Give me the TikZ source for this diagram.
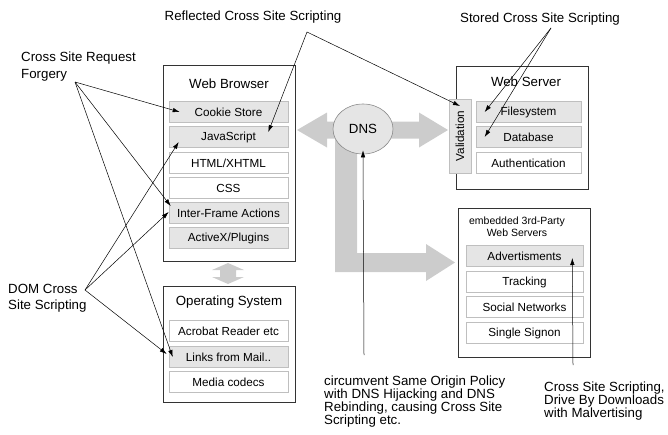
\documentclass[tikz,border=0pt]{standalone}
\usepackage{fontspec}
\setmainfont{Liberation Sans}
\usetikzlibrary{arrows.meta,shapes.geometric}

\begin{document}
\begin{tikzpicture}[x=1pt,y=-1pt,
    panel/.style={draw=black!80, line width=0.9pt, inner sep=0pt},
    part/.style={draw=black!25, line width=0.6pt, fill=white, inner sep=0pt, minimum height=21pt, font=\fontsize{11.7}{14}\selectfont},
    hotpart/.style={part, fill=black!10},
    heading/.style={inner sep=0pt, font=\fontsize{13.3}{16}\selectfont},
    note/.style={align=left, inner sep=0pt, font=\fontsize{13.3}{16.5}\selectfont},
    attack/.style={-{Latex[length=7pt,width=4.5pt]}, line width=0.5pt},
    flow/.style={fill=black!20}]
  \useasboundingbox (0,0) rectangle (668,434);

  % Gray flows around the DNS
  \fill[flow] (297,130) -- (327,112.5) -- (327,121.5) -- (419,121.5) -- (419,112.5) -- (448,130)
    -- (419,147.5) -- (419,138.5) -- (327,138.5) -- (327,147.5) -- cycle;
  \fill[flow] (335,135) -- (335,272) -- (426,272) -- (426,281) -- (455,262.5) -- (426,244)
    -- (426,253) -- (357,253) -- (357,135) -- cycle;
  \fill[flow] (228,263) -- (244,270) -- (236,270) -- (236,277) -- (244,277) -- (228,284)
    -- (212,277) -- (220,277) -- (220,270) -- (212,270) -- cycle;

  % Web Browser
  \node[panel, minimum width=132pt, minimum height=196pt] (browser) at (229,163) {};
  \node[heading] (browsertitle) at (229,84) {Web Browser};
  \node[hotpart, minimum width=119pt] (cookie) at (228.5,112) {Cookie Store};
  \node[hotpart, minimum width=119pt] (js) at (228.5,137) {JavaScript};
  \node[part, minimum width=119pt] (html) at (228.5,163) {HTML/XHTML};
  \node[part, minimum width=119pt] (css) at (228.5,188) {CSS};
  \node[hotpart, minimum width=119pt] (iframe) at (228.5,213) {Inter-Frame Actions};
  \node[hotpart, minimum width=119pt] (activex) at (228.5,238) {ActiveX/Plugins};

  % Operating System
  \node[panel, minimum width=132pt, minimum height=116pt] (os) at (229,344) {};
  \node[heading] (ostitle) at (229,302) {Operating System};
  \node[part, minimum width=119pt] (acrobat) at (228.5,331) {Acrobat Reader etc};
  \node[hotpart, minimum width=119pt] (links) at (228.5,357) {Links from Mail..};
  \node[part, minimum width=119pt] (media) at (228.5,382) {Media codecs};

  % Web Server
  \node[panel, minimum width=132pt, minimum height=123pt] (server) at (522,127.5) {};
  \node[heading] (servertitle) at (526,82) {Web Server};
  \node[hotpart, rotate=90, minimum width=74pt, minimum height=22pt] (valid) at (460,136) {Validation};
  \node[hotpart, minimum width=105pt] (fs) at (528.5,112) {Filesystem};
  \node[hotpart, minimum width=105pt] (db) at (528.5,137) {Database};
  \node[part, minimum width=105pt] (auth) at (528.5,163) {Authentication};

  % embedded 3rd-party servers
  \node[panel, minimum width=132pt, minimum height=149pt] (third) at (524,282.5) {};
  \node[heading, align=center, font=\fontsize{10.5}{11.5}\selectfont] (thirdtitle) at (517,226.5) {embedded 3rd-Party\\Web Servers};
  \node[hotpart, minimum width=117pt] (ads) at (524.5,256) {Advertisments};
  \node[part, minimum width=117pt] (tracking) at (524.5,282) {Tracking};
  \node[part, minimum width=117pt] (social) at (524.5,307) {Social Networks};
  \node[part, minimum width=117pt] (sso) at (524.5,333) {Single Signon};

  % DNS
  \node[ellipse, draw=black!45, line width=0.6pt, fill=black!10, inner sep=0pt,
    minimum width=60pt, minimum height=50pt, font=\fontsize{13.3}{16}\selectfont] (dns) at (363,129) {DNS};

  % Attack labels
  \node[heading] (reflected) at (253,17) {Reflected Cross Site Scripting};
  \node[heading] (stored) at (540,19) {Stored Cross Site Scripting};
  \node[note, anchor=west] (csrf) at (21,66.5) {Cross Site Request\\Forgery};
  \node[note, anchor=west] (dom) at (8,298) {DOM Cross\\Site Scripting};
  \node[note, anchor=west, font=\fontsize{13.3}{13}\selectfont] (rebind) at (324,401.5)
    {circumvent Same Origin Policy\\with DNS Hijacking and DNS\\Rebinding, causing Cross Site\\Scripting etc.};
  \node[note, anchor=west, font=\fontsize{13.3}{13}\selectfont] (malvert) at (544,401)
    {Cross Site Scripting,\\Drive By Downloads\\with Malvertising};

  \coordinate (reflectedfan) at (307,32);
  \coordinate (storedfan) at (551,28);
  \coordinate (csrffan) at (75,82);
  \coordinate (domfan) at (85,290);
  \coordinate (rebindfoot) at (364,355);
  \coordinate (malvertfoot) at (573,365);

  % Attack arrows
  \draw[attack] (reflectedfan) -- ([xshift=-20pt,yshift=5pt]js.east);
  \draw[attack] (reflectedfan) -- ([yshift=30pt]valid.center);
  \draw[attack] (storedfan) -- ([xshift=9pt]fs.west);
  \draw[attack] (storedfan) -- ([xshift=9pt]db.west);
  \draw[attack] (csrffan) -- ([xshift=11pt]cookie.west);
  \draw[attack] (csrffan) -- ([xshift=2pt,yshift=7pt]iframe.west);
  \draw[attack] (csrffan) -- ([xshift=4pt]links.west);
  \draw[attack] (domfan) -- ([xshift=10pt,yshift=-5pt]js.west);
  \draw[attack] (domfan) -- ([yshift=1pt]iframe.west);
  \draw[attack] (domfan) -- ([xshift=-2pt,yshift=3pt]links.west);
  \draw[attack] (rebindfoot) -- ([yshift=4pt]dns.south);
  \draw[attack] (malvertfoot) -- ([xshift=-11pt,yshift=-2pt]ads.east);
\end{tikzpicture}
\end{document}
